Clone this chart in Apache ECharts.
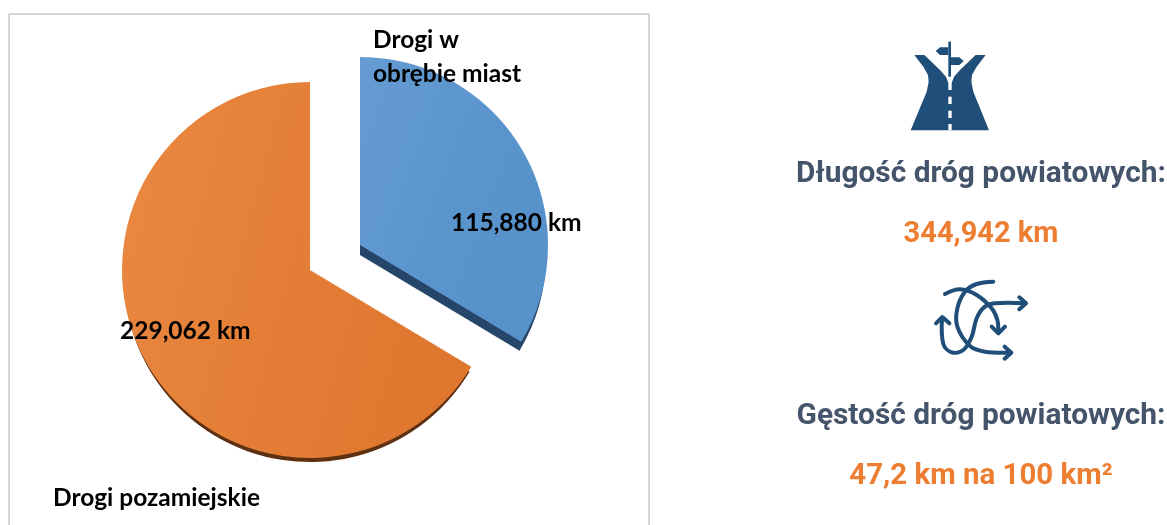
<!DOCTYPE html>
<html><head><meta charset="utf-8">
<style>html,body{margin:0;padding:0;background:#fff}#c{width:1167px;height:525px}</style>
<script src="https://cdn.jsdelivr.net/npm/echarts@6/dist/echarts.min.js"></script>
</head><body><div id="c"></div>
<script>
const categories = ['Drogi w\nobrębie miast', 'Drogi pozamiejskie'];
const lengths = [115.880, 229.062];
const headingLength = 'Długość dróg powiatowych:';
const valueLength = '344,942 km';
const headingDensity = 'Gęstość dróg powiatowych:';
const valueDensity = '47,2 km na 100 km²';

const chart = echarts.init(document.getElementById('c'), null, {renderer: 'canvas'});
const fmt = v => v.toFixed(3).replace('.', ',') + ' km';
const R = 188;
const grad = (a, b) => ({type: 'linear', x: 0, y: 0, x2: 1, y2: 0.25, colorStops: [{offset: 0, color: a}, {offset: 1, color: b}]});
const hidden = {itemStyle: {color: 'rgba(0,0,0,0)'}, label: {show: false}, labelLine: {show: false}, emphasis: {disabled: true}};

function slice(idx, cx, cy, r, fill, labelPos, nameOrValue) {
  const other = 1 - idx;
  const main = {
    name: categories[idx], value: lengths[idx],
    itemStyle: {color: fill},
    label: {
      show: true, position: 'inside', color: '#000',
      fontFamily: 'Lato', fontWeight: 'bold', fontSize: 24.5, lineHeight: 34, align: 'left',
      formatter: nameOrValue === 'name' ? p => p.name : p => fmt(p.value)
    }
  };
  const ph = Object.assign({name: '', value: lengths[other]}, hidden);
  return {
    type: 'pie', radius: [0, r], center: [cx, cy], startAngle: 90, clockwise: true,
    silent: true, animation: false, avoidLabelOverlap: false,
    labelLayout: Object.assign({align: 'left', verticalAlign: 'top'}, labelPos),
    labelLine: {show: false},
    data: idx === 0 ? [main, ph] : [ph, main]
  };
}

const BLUE = [360, 245], ORANGE = [310, 270];
const series = [
  // side walls (name labels live here so every text comes from the data)
  slice(0, BLUE[0], BLUE[1] + 10, R - 2, '#25466A', {x: 373, y: 23}, 'name'),
  slice(1, ORANGE[0], ORANGE[1] + 6, R - 2, '#5C3010', {x: 53, y: 481}, 'name'),
  // top faces
  slice(0, BLUE[0], BLUE[1], R, grad('#659BD3', '#5792CA'), {x: 451, y: 206}, 'value'),
  slice(1, ORANGE[0], ORANGE[1], R, grad('#EA8841', '#E0772F'), {x: 120, y: 314}, 'value')
];

const road = {
  type: 'group', x: 880, y: 30, scaleX: 1 / 3, scaleY: 1 / 3,
  children: [
    {type: 'polygon', shape: {points: [[103,75],[133,75],[180,120],[198,140],[206,162],[210,168],[214,162],[222,140],[240,120],[287,75],[317,75],[290,110],[276,135],[274,155],[280,185],[327,301],[92,301],[140,185],[146,155],[144,135],[130,110]]}, style: {fill: '#1F4E79'}},
    {type: 'rect', shape: {x: 205, y: 160, width: 10, height: 20}, style: {fill: '#fff'}},
    {type: 'rect', shape: {x: 205, y: 200, width: 10, height: 22}, style: {fill: '#fff'}},
    {type: 'rect', shape: {x: 205, y: 242, width: 10, height: 22}, style: {fill: '#fff'}},
    {type: 'rect', shape: {x: 205, y: 282, width: 10, height: 19}, style: {fill: '#fff'}},
    {type: 'rect', shape: {x: 205, y: 35, width: 8, height: 105}, style: {fill: '#1F4E79'}},
    {type: 'polygon', shape: {points: [[167,63],[180,52],[205,52],[205,75],[180,75]]}, style: {fill: '#1F4E79'}},
    {type: 'polygon', shape: {points: [[213,82],[238,82],[251,93],[238,105],[213,105]]}, style: {fill: '#1F4E79'}}
  ]
};

const arrowStyle = {fill: null, stroke: '#1F4E79', lineWidth: 12, lineCap: 'round', lineJoin: 'round'};
const curve = pts => ({type: 'polyline', shape: {points: pts, smooth: 0.35}, style: arrowStyle});
const head = pts => ({type: 'polyline', shape: {points: pts}, style: arrowStyle});
const arrows = {
  type: 'group', x: 910, y: 270, scaleX: 1 / 3, scaleY: 1 / 3,
  children: [
    curve([[105,72],[150,58],[200,75],[245,115],[262,150],[265,188]]),
    head([[245,170],[265,190],[285,170]]),
    curve([[250,35],[200,42],[165,65],[142,115],[142,170],[180,228],[225,245],[302,248]]),
    head([[284,230],[304,248],[284,266]]),
    curve([[346,100],[255,100],[222,112],[200,145],[185,200],[160,240],[125,247],[100,222],[96,145]]),
    head([[328,82],[348,100],[328,118]]),
    head([[78,160],[97,141],[118,160]])
  ]
};

const txt = (text, y, fill, sx) => ({
  type: 'text', x: 981, y: y, scaleX: sx,
  style: {text: text, fill: fill, font: 'bold 29px Roboto', textAlign: 'center', textVerticalAlign: 'middle'}
});

chart.setOption({
  backgroundColor: '#fff',
  animation: false,
  series: series,
  graphic: {elements: [
    {type: 'polyline', z: -1, shape: {points: [[9, 530], [9, 14], [649, 14], [649, 530]]}, style: {fill: null, stroke: '#ababab', lineWidth: 1}},
    road, arrows,
    txt(headingLength, 175, '#44546A', 1.03),
    txt(valueLength, 235, '#ED7D31', 1),
    txt(headingDensity, 417, '#44546A', 1.03),
    txt(valueDensity, 477, '#ED7D31', 1.015)
  ]}
});
</script></body></html>
